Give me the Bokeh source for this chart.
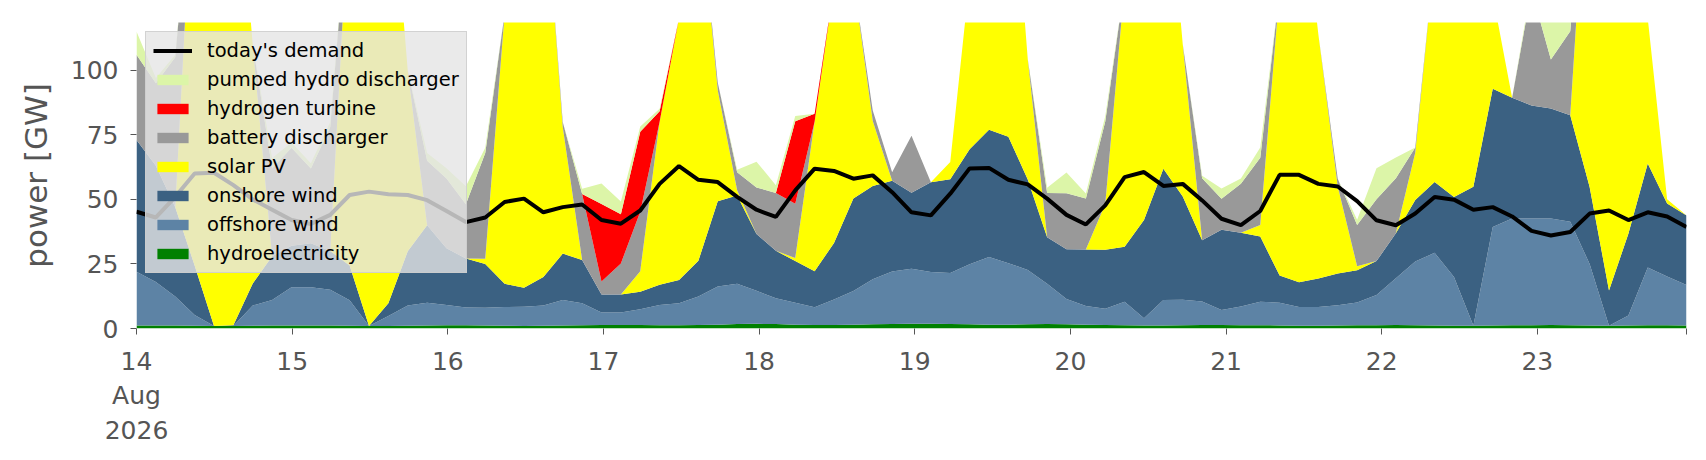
import pandas as pd
from bokeh.plotting import figure
from bokeh.models import ColumnDataSource, Range1d, FixedTicker, Legend, LegendItem
from bokeh.embed import file_html
from bokeh.resources import INLINE

# ---------------- data (GW), 81 samples from 14 Aug 00:00 to 23 Aug 23:00 ----------------
start = "2026-08-14 00:00"
end = "2026-08-23 23:00"
n_points = 81

hydro = [1.2, 1.2, 1.2, 1.1, 1.0, 1.0, 1.1, 1.2, 1.2, 1.2,
         1.2, 1.1, 1.0, 1.0, 1.1, 1.2, 1.3, 1.3, 1.2, 1.1,
         1.0, 1.1, 1.2, 1.3, 1.4, 1.4, 1.4, 1.3, 1.3, 1.4,
         1.5, 1.7, 1.8, 1.7, 1.5, 1.4, 1.4, 1.5, 1.6, 1.7,
         1.8, 1.8, 1.7, 1.6, 1.5, 1.5, 1.6, 1.7, 1.6, 1.5,
         1.4, 1.3, 1.2, 1.2, 1.3, 1.4, 1.4, 1.3, 1.3, 1.2,
         1.1, 1.1, 1.2, 1.3, 1.3, 1.4, 1.3, 1.2, 1.1, 1.1,
         1.2, 1.3, 1.3, 1.4, 1.3, 1.2, 1.1, 1.2, 1.3, 1.3,
         1.2]

offshore = [20.8, 16.8, 11.2, 4.1, 0, 0, 7.8, 9.8, 14.8, 14.8,
            13.8, 9.8, 0, 3.8, 7.8, 8.8, 7.8, 6.8, 6.8, 7.2,
            7.4, 7.8, 9.8, 8.5, 4.8, 4.8, 6.1, 7.8, 8.5, 11.0,
            14.8, 15.6, 12.8, 10.0, 8.5, 6.8, 9.8, 13.0, 17.5, 20.4,
            21.3, 20.1, 19.8, 23.3, 26.2, 23.8, 21.1, 15.6, 9.8, 7.2,
            6.2, 9.1, 2.8, 9.8, 9.8, 9.1, 5.8, 7.2, 9.1, 8.8,
            7.2, 7.2, 7.8, 8.8, 11.7, 18.1, 24.6, 28.1, 18.8, 0,
            38.1, 41.3, 41.3, 41.2, 40.0, 23.8, 0, 3.8, 22.3, 18.8,
            15.6]

onshore = [51, 45, 34.6, 19.2, 0, 0.3, 8.5, 17, 16, 17,
           15, 13.5, 0, 5, 21, 30, 22, 19, 17, 9,
           7.4, 11, 18, 16.7, 7, 7, 6.7, 7.8, 9, 13.8,
           33, 34.2, 22, 18.4, 16.1, 14, 21.9, 35.8, 36.1, 35.1,
           29.5, 34.7, 36.3, 44.5, 49.3, 49, 35, 18, 19.3, 21.9,
           22.9, 21.3, 38, 50.9, 40, 23.7, 31, 28.6, 25.2, 10.5,
           9.6, 11.1, 12.3, 12.5, 13.1, 17.4, 23.9, 27.4, 31, 53.8,
           53.5, 46.8, 43.8, 42.6, 41.3, 29.8, 13.6, 31.7, 40.3, 28.3,
           27]

solar = [0, 0, 0, 165.5, 208.8, 198.5, 92.5, 0, 0, 0,
         0, 145.5, 218.8, 182, 70, 0, 0, 0, 2, 104.6,
         184, 159, 49, 0, 0, 0, 8, 63.2, 101.3, 145,
         43, 2, 0, 0, 1.2, 58, 99.6, 85, 25.2, 0,
         0, 0, 6.7, 66, 123.3, 126, 46.7, 0, 0, 0,
         17.7, 101.4, 148, 133.1, 59, 0, 0, 0, 4.5, 110.5,
         162, 94.5, 33.7, 1.5, 0, 0, 18.3, 87.3, 139, 135,
         36.2, 0, 0, 0, 0, 145.2, 195.2, 163.3, 56.2, 1.7,
         0]

battery = [33, 32, 58, 0, 0, 0, 0, 34, 38, 29,
           48, 0, 0, 0, 0, 25, 27, 21, 41, 0,
           0, 0, 2, 25.6, 5, 12, 23, 0, 0, 0,
           3, 7, 18, 22.4, 21, 0, 0, 0, 4, 3.3,
           22, 0, 0, 0, 0, 0, 0, 17.2, 21.7, 19.7,
           32, 0, 0, 0, 0, 24, 12, 19, 26, 0,
           0, 0, 3, 16, 24, 21.3, 2, 0, 0, 0,
           0, 0, 44.7, 19, 32.5, 0, 0, 0, 0, 0,
           0]

hydrogen = [0, 0, 0, 0, 0, 0, 0, 0, 0, 0,
            0, 0, 0, 0, 0, 0, 0, 0, 0, 0,
            0, 0, 0, 0, 30, 19, 31, 4, 0, 0,
            0, 0, 0, 0, 32, 3, 0, 0, 0, 0,
            0, 0, 0, 0, 0, 0, 0, 0, 0, 0,
            0, 0, 0, 0, 0, 0, 0, 0, 0, 0,
            0, 0, 0, 0, 0, 0, 0, 0, 0, 0,
            0, 0, 0, 0, 0, 0, 0, 0, 0, 0,
            0]

pumped_hydro = [9, 2, 1, 0, 0, 0, 0, 4, 2, 2,
                2, 0, 0, 0, 0, 3, 4, 7, 2, 0,
                0, 0, 0, 2, 8, 5, 2, 1, 0, 0,
                0, 1, 10, 3, 2, 0, 0, 0, 0, 0,
                0, 0, 0, 0, 0, 0, 0, 2, 8, 2,
                2, 0, 0, 0, 0, 1, 4, 2, 4, 0,
                0, 0, 0, 2, 12, 8, 0, 0, 0, 0,
                0, 0, 2, 21, 13, 0, 0, 0, 0, 0,
                0]

demand = [45.2, 43, 51, 60, 60.3, 55.5, 50, 46, 42, 40.5,
          44, 51.7, 53, 52, 51.7, 49.7, 45.5, 41.2, 43, 49,
          50.3, 45, 47, 48, 42, 40.6, 45.7, 56, 62.9, 57.6,
          56.7, 51, 46, 43.2, 53.5, 61.9, 61, 58, 59.3, 52.8,
          45, 43.8, 52.2, 62, 62.2, 57.6, 55.8, 50.3, 44, 40.3,
          47.7, 58.6, 60.6, 55.2, 56, 49.6, 42.5, 40, 45.5, 59.5,
          59.5, 56, 55, 49.3, 41.9, 40, 44.5, 50.9, 49.9, 46,
          47, 43.4, 37.8, 36, 37.4, 44.5, 45.7, 42, 45, 43.4,
          39.3]

series_names = ["hydroelectricity", "offshore wind", "onshore wind", "solar PV",
                "battery discharger", "hydrogen turbine", "pumped hydro discharger"]
series_colors = ["#008000", "#5d83a5", "#3b6182", "#ffff00",
                 "#999999", "#ff0000", "#dcf5a8"]

tick_labels = ["14\nAug\n2026", "15", "16", "17", "18", "19", "20", "21", "22", "23"]
y_ticks = [0, 25, 50, 75, 100]
y_max = 118.5

# ---------------- build ----------------
times = pd.date_range(start, end, periods=n_points)
keys = ["hydro", "offshore", "onshore", "solar", "battery", "hydrogen", "pumped"]
src = ColumnDataSource(dict(x=times, hydro=hydro, offshore=offshore, onshore=onshore,
                            solar=solar, battery=battery, hydrogen=hydrogen,
                            pumped=pumped_hydro, demand=demand))

p = figure(x_axis_type="datetime", frame_width=1550, frame_height=306,
           min_border_left=136, min_border_top=22, min_border_right=10, min_border_bottom=118,
           output_backend="svg", toolbar_location=None,
           x_range=Range1d(times[0], times[-1]), y_range=Range1d(0, y_max))

areas = p.varea_stack(stackers=keys, x="x", color=series_colors, source=src)
dline = p.line("x", "demand", source=src, color="black", line_width=4)

# axes
day_ts = pd.date_range(start, periods=len(tick_labels), freq="D")
tick_vals = [int(t.timestamp() * 1000) for t in day_ts] + [int(times[-1].timestamp() * 1000)]
overrides = {v: l for v, l in zip(tick_vals, tick_labels + [""])}
p.xaxis.ticker = FixedTicker(ticks=tick_vals)
p.xaxis.major_label_overrides = overrides
p.yaxis.ticker = FixedTicker(ticks=y_ticks)
p.yaxis.axis_label = "power [GW]"

for ax in (p.xaxis[0], p.yaxis[0]):
    ax.axis_line_color = None
    ax.major_tick_line_color = "#555555"
    ax.major_tick_out = 6
    ax.major_tick_in = 0
    ax.minor_tick_line_color = None
    ax.major_label_text_font = "DejaVu Sans"
    ax.major_label_text_font_size = "25px"
    ax.major_label_text_color = "#555555"
    ax.major_label_standoff = 12
    ax.axis_label_text_font = "DejaVu Sans"
    ax.axis_label_text_font_size = "31px"
    ax.axis_label_text_font_style = "normal"
    ax.axis_label_text_color = "#555555"
    ax.axis_label_standoff = 14

p.grid.visible = False
p.outline_line_color = None
p.background_fill_color = "white"

order = [6, 5, 4, 3, 2, 1, 0]
items = [LegendItem(label="today's demand", renderers=[dline])]
items += [LegendItem(label=series_names[i], renderers=[areas[i]]) for i in order]
legend = Legend(items=items, location="top_left")
legend.background_fill_color = "#e5e5e5"
legend.background_fill_alpha = 0.8
legend.border_line_color = "#cccccc"
legend.border_line_alpha = 0.8
legend.label_text_font = "DejaVu Sans"
legend.label_text_font_size = "19.5px"
legend.label_text_color = "black"
legend.glyph_width = 39
legend.glyph_height = 13
legend.label_height = 22
legend.label_standoff = 15
legend.spacing = 6
legend.padding = 7
legend.margin = 9
p.add_layout(legend)

open("out.html", "w").write(file_html(p, INLINE))
